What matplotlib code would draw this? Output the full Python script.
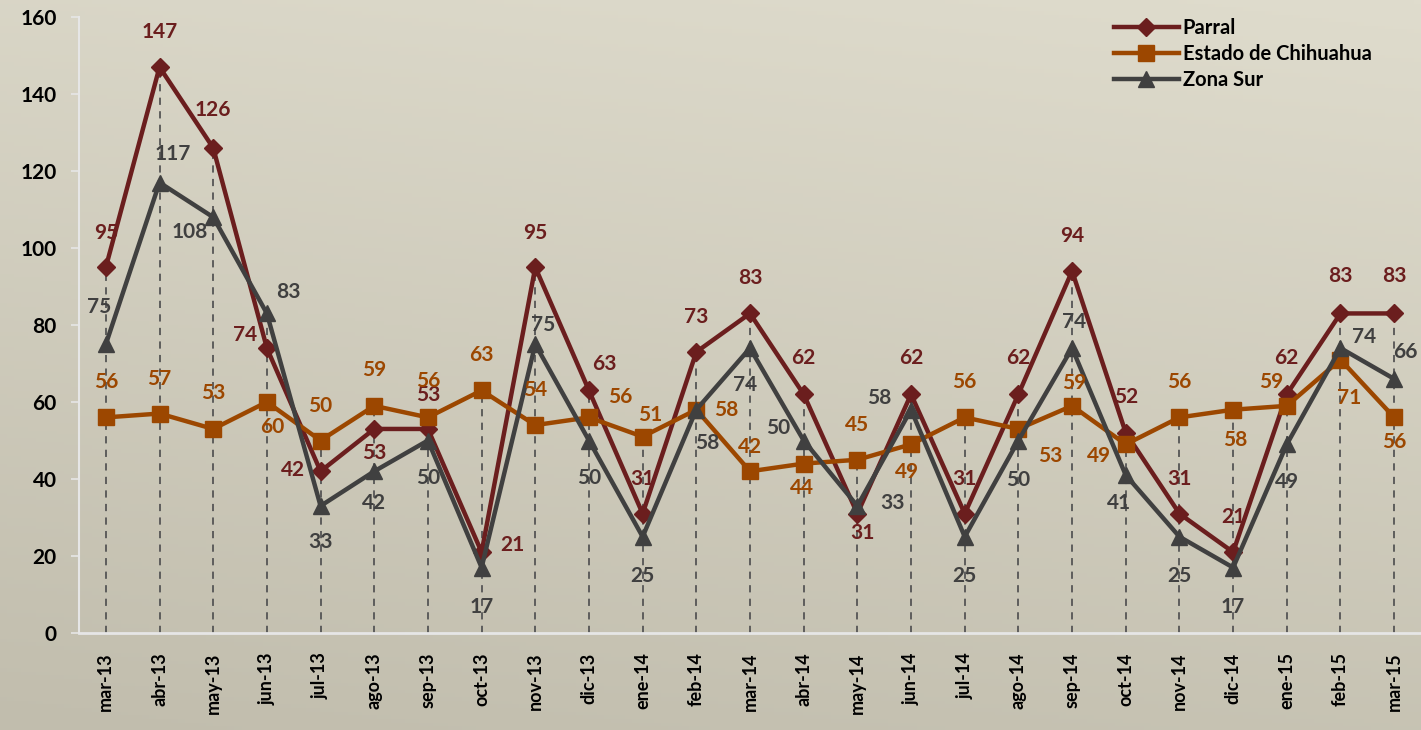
import numpy as np
import matplotlib
matplotlib.use('Agg')
from matplotlib import pyplot

# datos
MESES = ['mar-13', 'abr-13', 'may-13', 'jun-13', 'jul-13', 'ago-13', 'sep-13', 'oct-13',
         'nov-13', 'dic-13', 'ene-14', 'feb-14', 'mar-14', 'abr-14', 'may-14', 'jun-14',
         'jul-14', 'ago-14', 'sep-14', 'oct-14', 'nov-14', 'dic-14', 'ene-15', 'feb-15', 'mar-15']
PARRAL = [95, 147, 126, 74, 42, 53, 53, 21, 95, 63, 31, 73, 83, 62, 31, 62, 31, 62, 94, 52,
          31, 21, 62, 83, 83]
ESTADO = [56, 57, 53, 60, 50, 59, 56, 63, 54, 56, 51, 58, 42, 44, 45, 49, 56, 53, 59, 49,
          56, 58, 59, 71, 56]
ZONA_SUR = [75, 117, 108, 83, 33, 42, 50, 17, 75, 50, 25, 58, 74, 50, 33, 58, 25, 50, 74, 41,
            25, 17, 49, 74, 66]
Y_TICKS = [0, 20, 40, 60, 80, 100, 120, 140, 160]

FONT = 'Lato'
COLOR_PARRAL = '#6B1E1E'
COLOR_ESTADO = '#9C4700'
COLOR_ZONA = '#404040'

# desplazamiento de cada etiqueta (pixeles) respecto a su punto
OFF_PARRAL = [(0, 34), (0, 35), (0, 38), (-22, 13), (-28, 1), (0, -24), (0, 34), (31, 7),
              (0, 34), (15, 26), (0, 35), (0, 35), (0, 35), (0, 36), (5, -19), (0, 36),
              (0, 35), (0, 36), (0, 35), (0, 36), (0, 35), (0, 35), (0, 36), (0, 37), (0, 37)]
OFF_ESTADO = [(0, 35), (0, 35), (0, 36), (5, -25), (0, 35), (0, 36), (0, 36), (0, 35),
              (0, 35), (31, 20), (8, 22), (30, 0), (0, 24), (-2, -24), (0, 35), (-4, -28),
              (0, 35), (32, -27), (2, 23), (-27, -12), (0, 35), (2, -30), (-16, 24), (9, -38),
              (0, -25)]
OFF_ZONA = [(-7, 37), (13, 29), (-23, -15), (21, 21), (0, -36), (0, -32), (0, -38), (0, -39),
            (8, 19), (0, -38), (0, -39), (11, -33), (-5, -37), (-26, 13), (35, 3), (-32, 12),
            (0, -39), (0, -40), (2, 26), (-7, -28), (0, -39), (0, -39), (0, -38), (24, 11),
            (11, 27)]


def draw_series(axes, values, color, marker, size, label, offsets, zorder):
    x = np.arange(len(values))
    axes.plot(x, values, color=color, lw=3.2, marker=marker, markersize=size,
              markerfacecolor=color, markeredgecolor=color, label=label, zorder=zorder,
              solid_joinstyle='miter')
    for i, v in enumerate(values):
        dx, dy = offsets[i]
        axes.annotate(str(v), (i, v), xytext=(dx, dy), textcoords='offset pixels',
                      ha='center', va='center', color=color, fontsize=15,
                      fontweight='bold', fontname=FONT, zorder=zorder + 5)


def main():
    pyplot.rcParams['font.family'] = [FONT, 'DejaVu Sans']
    figure = pyplot.figure(figsize=(14.21, 7.30), dpi=100)

    # fondo degradado
    bg = figure.add_axes([0, 0, 1, 1], zorder=-10)
    yy, xx = np.mgrid[0:1:200j, 0:1:200j]
    t = np.clip(0.8 * yy + 0.2 * (1 - xx), 0, 1)
    top = np.array([223, 220, 205]) / 255
    bot = np.array([193, 189, 173]) / 255
    img = top[None, None, :] * (1 - t[..., None]) + bot[None, None, :] * t[..., None]
    bg.imshow(img, aspect='auto', extent=(0, 1, 0, 1), origin='upper')
    bg.axis('off')

    axes = figure.add_axes([79 / 1421, 1 - 633 / 730, 1 - 79 / 1421, (633 - 17) / 730])
    axes.patch.set_alpha(0)
    x = np.arange(len(MESES))

    # líneas de caída hasta el eje
    tops = np.max([PARRAL, ESTADO, ZONA_SUR], axis=0)
    axes.vlines(x, 0, tops, colors='#555555', linestyles=(0, (4, 3.5)), lw=1.3, zorder=1)

    draw_series(axes, PARRAL, COLOR_PARRAL, 'D', 9, 'Parral', OFF_PARRAL, 3)
    draw_series(axes, ESTADO, COLOR_ESTADO, 's', 11, 'Estado de Chihuahua', OFF_ESTADO, 4)
    draw_series(axes, ZONA_SUR, COLOR_ZONA, '^', 11, 'Zona Sur', OFF_ZONA, 5)

    axes.set_xlim(-0.5, len(MESES) - 0.5)
    axes.set_ylim(0, 160)
    axes.set_yticks(Y_TICKS)
    axes.set_yticklabels([str(t) for t in Y_TICKS], fontsize=15, fontweight='bold')
    axes.set_xticks(x)
    axes.set_xticklabels(MESES, rotation=90, fontsize=13, fontweight='bold')
    axes.tick_params(axis='x', length=0, pad=14)
    axes.tick_params(axis='y', length=6, width=1.2, color='#E6E6E6', pad=10)
    for side in ['top', 'right']:
        axes.spines[side].set_visible(False)
    axes.spines['left'].set_color('#E6E6E6')
    axes.spines['bottom'].set_color('#E6E6E6')
    axes.spines['left'].set_linewidth(1.5)
    axes.spines['bottom'].set_linewidth(2)

    legend = axes.legend(loc='upper left', bbox_to_anchor=(1100 / 1421, 1 - 4 / 730),
                         bbox_transform=figure.transFigure, frameon=False, fontsize=14.5,
                         handlelength=3.2, handletextpad=0.2, labelspacing=0.3,
                         borderpad=0.2)
    for text in legend.get_texts():
        text.set_fontweight('bold')

    pyplot.savefig('out.png', dpi=100)


main()
